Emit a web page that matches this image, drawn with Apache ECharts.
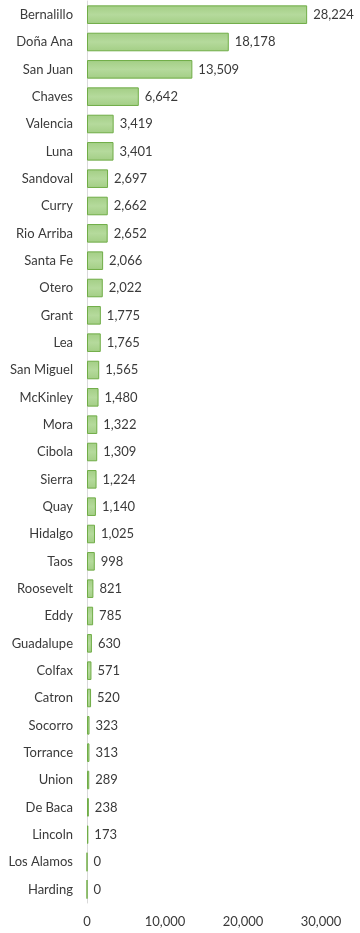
<!DOCTYPE html>
<html><head><meta charset="utf-8">
<script src="https://cdn.jsdelivr.net/npm/echarts@6/dist/echarts.min.js"></script>
<style>html,body{margin:0;padding:0;background:#fff}#c{width:360px;height:933px}</style>
</head><body><div id="c"></div>
<script>
const counties = ["Bernalillo","Doña Ana","San Juan","Chaves","Valencia","Luna","Sandoval","Curry","Rio Arriba","Santa Fe","Otero","Grant","Lea","San Miguel","McKinley","Mora","Cibola","Sierra","Quay","Hidalgo","Taos","Roosevelt","Eddy","Guadalupe","Colfax","Catron","Socorro","Torrance","Union","De Baca","Lincoln","Los Alamos","Harding"];
const values = [28224,18178,13509,6642,3419,3401,2697,2662,2652,2066,2022,1775,1765,1565,1480,1322,1309,1224,1140,1025,998,821,785,630,571,520,323,313,289,238,173,0,0];
const xTicks = [0,10000,20000,30000];
const font = "Lato, 'Open Sans', sans-serif";
const chart = echarts.init(document.getElementById('c'));
chart.setOption({
  animation:false,
  grid:{left:87,right:39,top:1,bottom:30,containLabel:false},
  xAxis:{type:'value',min:0,max:30000,interval:10000,
    axisLine:{show:false},axisTick:{show:false},splitLine:{show:false},
    axisLabel:{color:'#3a3a3a',fontSize:13,fontFamily:font,margin:12,
      formatter:v=>xTicks.includes(v)?v.toLocaleString('en-US'):''}},
  yAxis:{type:'category',data:counties,inverse:true,
    axisLine:{show:true,lineStyle:{color:'#d9d9d9',width:1}},axisTick:{show:false},
    axisLabel:{color:'#3a3a3a',fontSize:13,fontFamily:font,margin:14}},
  series:[{type:'bar',data:values,barCategoryGap:'32%',
    itemStyle:{color:{type:'linear',x:0,y:0,x2:0,y2:1,colorStops:[
      {offset:0,color:'#a3ce85'},{offset:0.5,color:'#b5da9c'},{offset:1,color:'#a3ce85'}]},
      borderColor:'#70ad47',borderWidth:1},
    label:{show:true,position:'right',distance:6,color:'#3a3a3a',fontSize:13,fontFamily:font,
      formatter:p=>p.value.toLocaleString('en-US')}}]
});
</script></body></html>
